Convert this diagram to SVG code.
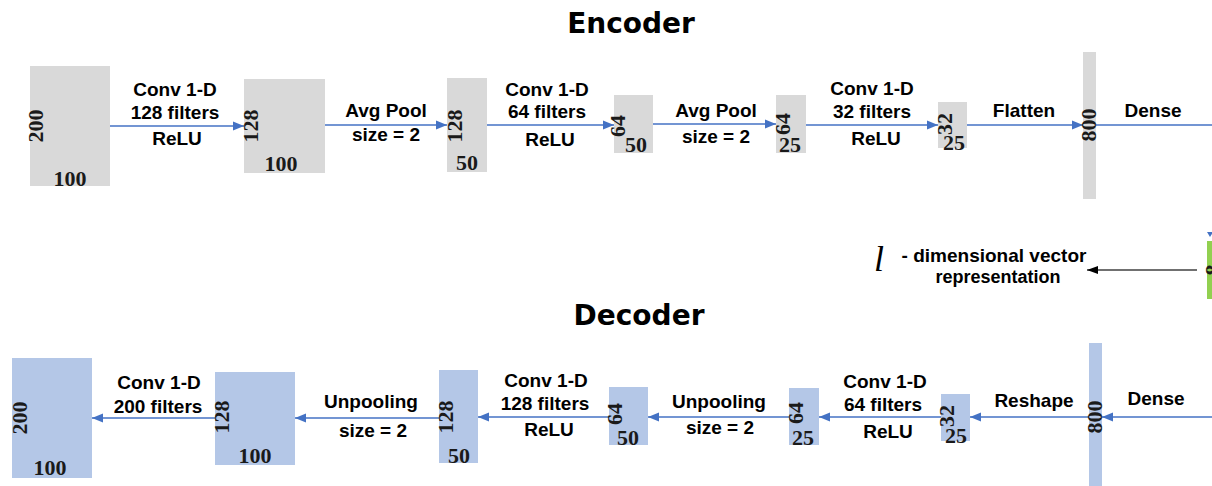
<svg xmlns="http://www.w3.org/2000/svg" width="1212" height="486" viewBox="0 0 1212 486">
<style>
.enc{fill:#d9d9d9}
.dec{fill:#b4c7e7}
.lbl{font-family:"Liberation Sans",Arial,sans-serif;font-weight:bold;font-size:19px;fill:#000;text-anchor:middle}
.num{font-family:"Liberation Serif","Times New Roman",serif;font-weight:bold;font-size:22px;fill:#1a1a1a;text-anchor:middle}
.title{font-family:"DejaVu Sans",sans-serif;font-weight:bold;font-size:28px;fill:#000;text-anchor:middle}
.ln{stroke:#4472c4;stroke-width:1.5;fill:none}
.lk{stroke:#404040;stroke-width:1.5;fill:none}
</style>
<defs>
<marker id="ab" markerUnits="userSpaceOnUse" markerWidth="12" markerHeight="10" refX="11" refY="5" orient="auto"><path d="M0,0.5 L11,5 L0,9.5 Z" fill="#4472c4"/></marker>
<marker id="ak" markerUnits="userSpaceOnUse" markerWidth="12" markerHeight="10" refX="11" refY="5" orient="auto"><path d="M0,1 L11,5 L0,9 Z" fill="#000"/></marker>
</defs>
<rect width="1212" height="486" fill="#fff"/>
<text class="title" x="631" y="33">Encoder</text>
<text class="title" x="639" y="325">Decoder</text>

<g id="connectors">
<line class="ln" x1="110" y1="126" x2="244" y2="126" marker-end="url(#ab)"/>
<line class="ln" x1="325" y1="125" x2="447" y2="125" marker-end="url(#ab)"/>
<line class="ln" x1="487" y1="125" x2="614" y2="125" marker-end="url(#ab)"/>
<line class="ln" x1="652" y1="124" x2="776" y2="124" marker-end="url(#ab)"/>
<line class="ln" x1="805" y1="125" x2="938" y2="125" marker-end="url(#ab)"/>
<line class="ln" x1="967" y1="125" x2="1083" y2="125" marker-end="url(#ab)"/>
<line class="ln" x1="1096" y1="125" x2="1212" y2="125"/>
<line class="ln" x1="1212" y1="417" x2="1102" y2="417" marker-end="url(#ab)"/>
<line class="ln" x1="1089" y1="417" x2="970" y2="417" marker-end="url(#ab)"/>
<line class="ln" x1="941" y1="417" x2="819" y2="417" marker-end="url(#ab)"/>
<line class="ln" x1="789" y1="417" x2="648" y2="417" marker-end="url(#ab)"/>
<line class="ln" x1="609" y1="417" x2="478" y2="417" marker-end="url(#ab)"/>
<line class="ln" x1="439" y1="418" x2="295" y2="418" marker-end="url(#ab)"/>
<line class="ln" x1="215" y1="418" x2="92" y2="418" marker-end="url(#ab)"/>
<line class="lk" x1="1197" y1="270" x2="1087" y2="270" marker-end="url(#ak)"/>
<path d="M1207,232 L1213,232 L1210,237 Z" fill="#4472c4"/>
</g>

<g id="edge-labels">
<text class="lbl" x="175" y="96">Conv 1-D</text>
<text class="lbl" x="175" y="119">128 filters</text>
<text class="lbl" x="177" y="145">ReLU</text>
<text class="lbl" x="386" y="117">Avg Pool</text>
<text class="lbl" x="386" y="141">size = 2</text>
<text class="lbl" x="547" y="96">Conv 1-D</text>
<text class="lbl" x="547" y="118">64 filters</text>
<text class="lbl" x="550" y="146">ReLU</text>
<text class="lbl" x="716" y="117">Avg Pool</text>
<text class="lbl" x="716" y="143">size = 2</text>
<text class="lbl" x="872" y="95">Conv 1-D</text>
<text class="lbl" x="872" y="118">32 filters</text>
<text class="lbl" x="876" y="145">ReLU</text>
<text class="lbl" x="1024" y="117">Flatten</text>
<text class="lbl" x="1153" y="117">Dense</text>
<text class="lbl" x="1156" y="405">Dense</text>
<text class="lbl" x="1034" y="407">Reshape</text>
<text class="lbl" x="885" y="388">Conv 1-D</text>
<text class="lbl" x="883" y="411">64 filters</text>
<text class="lbl" x="888" y="438">ReLU</text>
<text class="lbl" x="719" y="408">Unpooling</text>
<text class="lbl" x="720" y="434">size = 2</text>
<text class="lbl" x="546" y="387">Conv 1-D</text>
<text class="lbl" x="545" y="410">128 filters</text>
<text class="lbl" x="549" y="436">ReLU</text>
<text class="lbl" x="371" y="408">Unpooling</text>
<text class="lbl" x="373" y="437">size = 2</text>
<text class="lbl" x="159" y="389">Conv 1-D</text>
<text class="lbl" x="158" y="413">200 filters</text>
</g>

<g id="latent-label">
<text x="879" y="271" font-family="Liberation Serif,serif" font-style="italic" font-size="36" fill="#000" text-anchor="middle">l</text>
<text class="lbl" x="994" y="262">- dimensional vector</text>
<text class="lbl" x="998" y="283" style="font-size:18px">representation</text>
</g>

<g id="latent">
<rect x="1207" y="241" width="10" height="58" fill="#92d050"/>
<text class="num" transform="translate(1220,270) rotate(-90)">8</text>
</g>

<g id="enc1"><rect class="enc" x="30" y="66" width="80" height="120"/><text class="num" transform="translate(43,126) rotate(-90)">200</text><text class="num" x="70" y="186">100</text></g>
<g id="enc2"><rect class="enc" x="244" y="79" width="81" height="94"/><text class="num" transform="translate(258,126) rotate(-90)">128</text><text class="num" x="281" y="171">100</text></g>
<g id="enc3"><rect class="enc" x="447" y="78" width="40" height="94"/><text class="num" transform="translate(462,126) rotate(-90)">128</text><text class="num" x="467" y="170">50</text></g>
<g id="enc4"><rect class="enc" x="614" y="95" width="39" height="58"/><text class="num" transform="translate(625,126) rotate(-90)">64</text><text class="num" x="636" y="152">50</text></g>
<g id="enc5"><rect class="enc" x="776" y="95" width="30" height="58"/><text class="num" transform="translate(790,124) rotate(-90)">64</text><text class="num" x="790" y="152">25</text></g>
<g id="enc6"><rect class="enc" x="938" y="102" width="29" height="46"/><text class="num" transform="translate(952,124) rotate(-90)">32</text><text class="num" x="954" y="150">25</text></g>
<g id="enc7"><rect class="enc" x="1083" y="52" width="13" height="147"/><text class="num" transform="translate(1096,125) rotate(-90)">800</text></g>

<g id="dec1"><rect class="dec" x="12" y="358" width="80" height="120"/><text class="num" transform="translate(27,418) rotate(-90)">200</text><text class="num" x="50" y="475">100</text></g>
<g id="dec2"><rect class="dec" x="215" y="372" width="80" height="93"/><text class="num" transform="translate(229,417) rotate(-90)">128</text><text class="num" x="255" y="463">100</text></g>
<g id="dec3"><rect class="dec" x="439" y="370" width="39" height="93"/><text class="num" transform="translate(453,417) rotate(-90)">128</text><text class="num" x="459" y="463">50</text></g>
<g id="dec4"><rect class="dec" x="609" y="387" width="39" height="58"/><text class="num" transform="translate(622,414) rotate(-90)">64</text><text class="num" x="628" y="445">50</text></g>
<g id="dec5"><rect class="dec" x="789" y="388" width="30" height="57"/><text class="num" transform="translate(803,413) rotate(-90)">64</text><text class="num" x="803" y="445">25</text></g>
<g id="dec6"><rect class="dec" x="941" y="394" width="29" height="47"/><text class="num" transform="translate(954,416) rotate(-90)">32</text><text class="num" x="956" y="443">25</text></g>
<g id="dec7"><rect class="dec" x="1089" y="343" width="13" height="143"/><text class="num" transform="translate(1102,417) rotate(-90)">800</text></g>
</svg>
